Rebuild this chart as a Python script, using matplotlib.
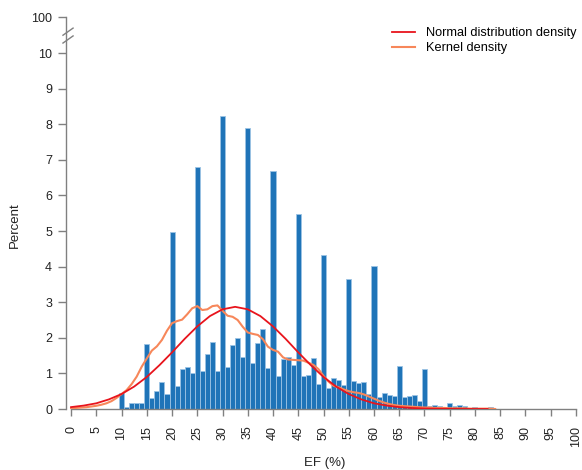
import numpy as np
import matplotlib.pyplot as plt

plt.rcParams['font.family'] = ['Liberation Sans', 'DejaVu Sans']

# histogram: percent of patients per 1-unit EF bin (bins centred on integers)
ef_bins = list(range(10, 91))
pct = [0.46, 0.05, 0.17, 0.17, 0.17, 1.82, 0.32, 0.50, 0.75, 0.42,
       4.98, 0.65, 1.12, 1.18, 1.00, 6.81, 1.08, 1.54, 1.89, 1.08,
       8.22, 1.19, 1.80, 2.00, 1.47, 7.90, 1.30, 1.84, 2.26, 1.14,
       6.69, 0.93, 1.40, 1.45, 1.24, 5.49, 0.93, 0.95, 1.42, 0.70,
       4.34, 0.58, 0.88, 0.81, 0.67, 3.64, 0.80, 0.74, 0.77, 0.42,
       4.02, 0.35, 0.44, 0.39, 0.37, 1.22, 0.35, 0.37, 0.39, 0.23,
       1.12, 0.08, 0.12, 0.08, 0.06, 0.16, 0.08, 0.10, 0.08, 0.02,
       0.05, 0.01, 0.01, 0.05, 0.01, 0.01, 0.01, 0.01, 0.01, 0.01,
       0.01]

# normal distribution density curve, read every 2.5 units
norm_x = [0, 2.5, 5, 7.5, 10, 12.5, 15, 17.5, 20, 22.5, 25, 27.5, 30, 32.5,
          35, 37.5, 40, 42.5, 45, 47.5, 50, 52.5, 55, 57.5, 60, 62.5, 65,
          67.5, 70, 72.5, 75, 77.5, 80, 82.5]
norm_y = [0.053, 0.096, 0.16, 0.27, 0.42, 0.63, 0.90, 1.23, 1.59, 1.97, 2.32,
          2.61, 2.80, 2.87, 2.80, 2.61, 2.32, 1.97, 1.59, 1.23, 0.90, 0.63,
          0.42, 0.27, 0.16, 0.096, 0.053, 0.028, 0.014, 0.007, 0.003, 0.001,
          0.0, 0.0]

# kernel density curve, read every unit
kde_x = list(range(0, 85))
kde_y = [0.02, 0.03, 0.04, 0.05, 0.07, 0.09, 0.12, 0.16, 0.22, 0.31,
         0.42, 0.53, 0.70, 0.91, 1.19, 1.42, 1.64, 1.76, 1.94, 2.20,
         2.41, 2.47, 2.51, 2.66, 2.83, 2.89, 2.78, 2.80, 2.89, 2.91,
         2.76, 2.62, 2.59, 2.50, 2.31, 2.15, 2.11, 2.08, 1.96, 1.75,
         1.66, 1.61, 1.45, 1.39, 1.38, 1.37, 1.36, 1.30, 1.24, 1.12,
         0.93, 0.77, 0.65, 0.61, 0.55, 0.50, 0.47, 0.45, 0.41, 0.35,
         0.29, 0.23, 0.18, 0.14, 0.11, 0.09, 0.08, 0.07, 0.06, 0.05,
         0.04, 0.04, 0.03, 0.03, 0.03, 0.02, 0.02, 0.02, 0.02, 0.01,
         0.01, 0.01, 0.01, 0.01, 0.0]

y_ticks = list(range(0, 11)) + [11]
y_labels = [str(v) for v in range(0, 11)] + ['100']
x_ticks = list(range(0, 101, 5))

fig = plt.figure(figsize=(5.82, 4.70), dpi=100)
ax = fig.add_axes([66 / 582, 61 / 470, 515 / 582, 398.7 / 470])

ax.bar(ef_bins, pct, width=1.0, color='#1f74b8', edgecolor='#9cc3e4',
       linewidth=0.6, zorder=2)
ln_kde, = ax.plot(kde_x, kde_y, color='#f7875a', lw=1.5, zorder=3,
                  solid_joinstyle='round')
ln_norm, = ax.plot(norm_x, norm_y, color='#e8141c', lw=1.3, zorder=4,
                   solid_joinstyle='round')

ax.set_xlim(-1, 101)
ax.set_ylim(0, 11.2)
for s in ['top', 'right']:
    ax.spines[s].set_visible(False)
ax.spines['left'].set_bounds(0, 11)
ax.spines['bottom'].set_bounds(0, 100)
for s in ['left', 'bottom']:
    ax.spines[s].set_color('#808080')
    ax.spines[s].set_linewidth(1.0)

ax.set_xticks(x_ticks)
ax.set_xticklabels([str(v) for v in x_ticks], rotation=90)
ax.set_yticks(y_ticks)
ax.set_yticklabels(y_labels)
ax.tick_params(axis='x', length=5, width=1, color='#808080', pad=7,
               labelsize=9, labelcolor='#222222')
ax.tick_params(axis='y', length=6, width=1, color='#808080', pad=4,
               labelsize=9, labelcolor='#222222')

# axis break marks between 10 and 100
for yb in (10.28, 10.5):
    ax.plot([-1.6, 0.4], [yb, yb + 0.2], color='#808080', lw=1.0,
            clip_on=False, zorder=5)

ax.legend([ln_norm, ln_kde], ['Normal distribution density', 'Kernel density'],
          loc='upper right', bbox_to_anchor=(577 / 582, 1 - 27 / 470),
          bbox_transform=fig.transFigure, frameon=False, fontsize=9.2,
          handlelength=1.8, handletextpad=0.9, labelspacing=0.25,
          borderpad=0, borderaxespad=0)

fig.text(15 / 582, 1 - 225 / 470, 'Percent', rotation=90, ha='center',
         va='center', fontsize=9.5, color='#222222')
fig.text(325 / 582, 1 - 463 / 470, 'EF (%)', ha='center', va='center',
         fontsize=9.5, color='#222222')

fig.savefig('out.png', dpi=100)
